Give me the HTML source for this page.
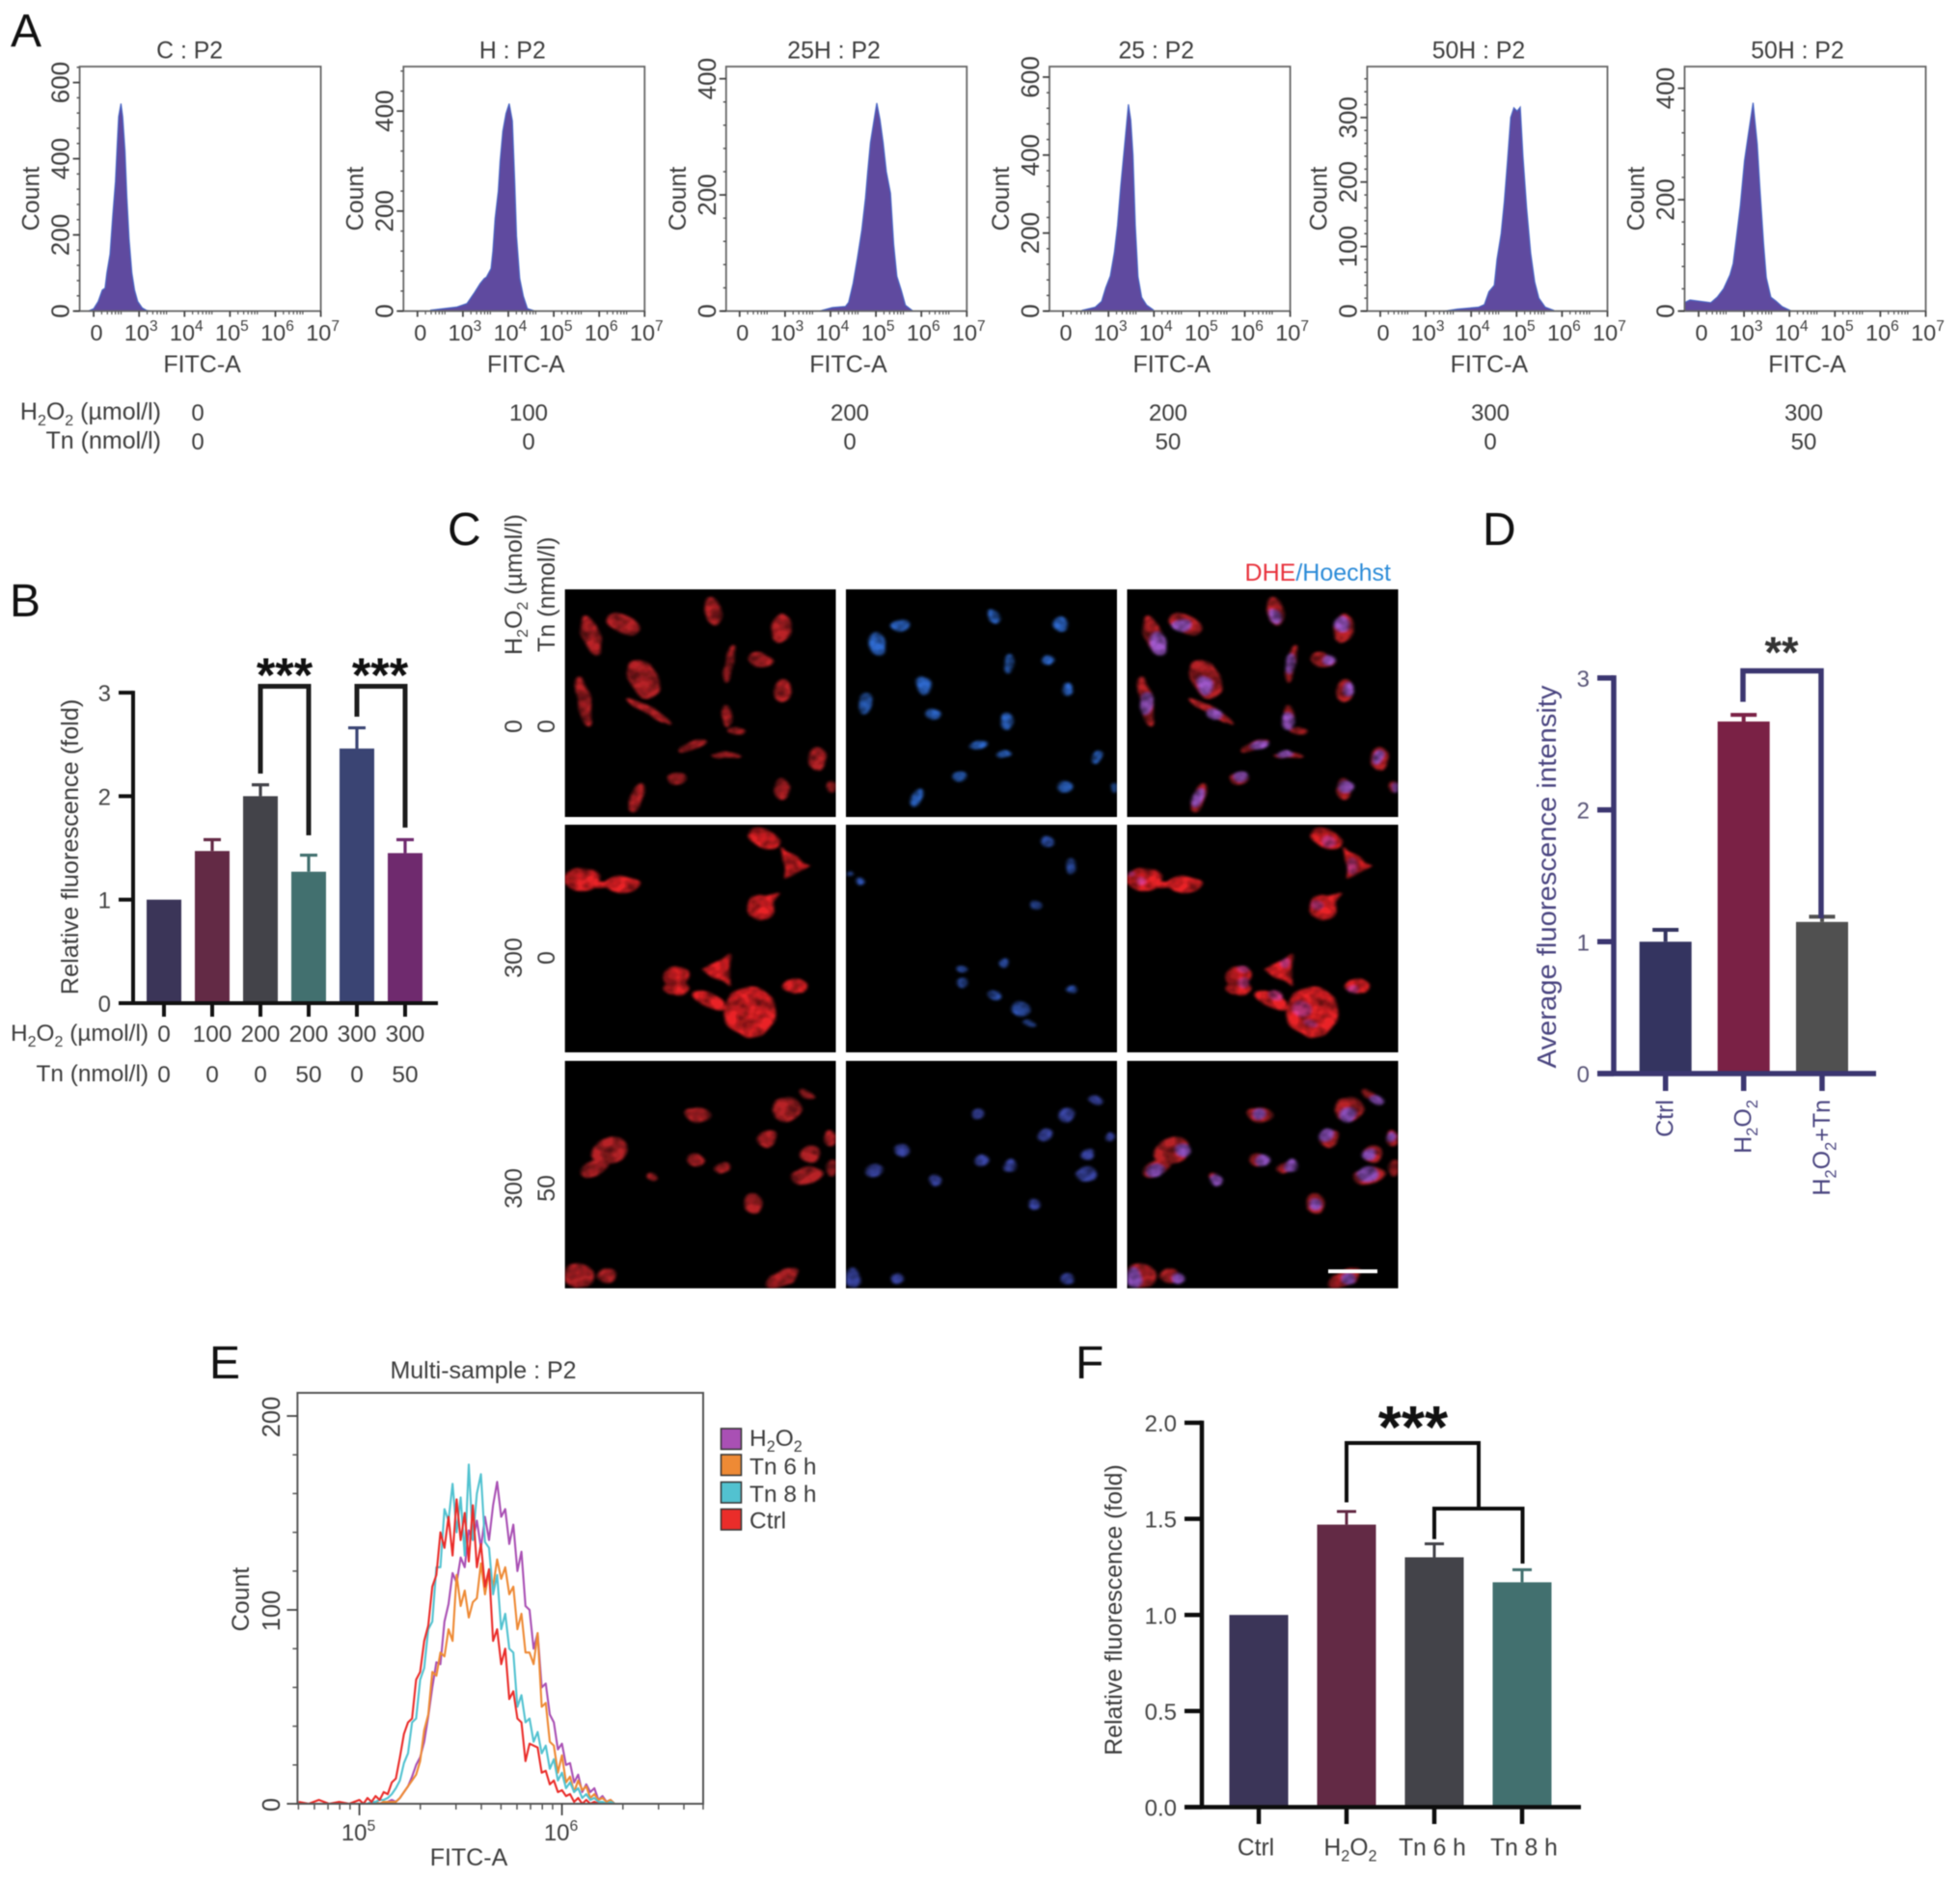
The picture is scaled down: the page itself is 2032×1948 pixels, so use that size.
<!DOCTYPE html>
<html lang="en">
<head>
<meta charset="utf-8">
<title>Flow cytometry and ROS fluorescence figure</title>
<style>
html,body{margin:0;padding:0;background:#fff;}
#figure{display:block;width:2032px;height:1948px;filter:blur(0.6px);font-family:"Liberation Sans",Arial,sans-serif;fill:#3d3d3d;}
.panel-letter{font-size:48px;fill:#111;}
.t24{font-size:25px;}
</style>
</head>
<body>
<svg id="figure" xmlns="http://www.w3.org/2000/svg" width="2032" height="1948" viewBox="0 0 2032 1948">
  <rect width="2032" height="1948" fill="#fff"/>
  <text class="panel-letter" x="11" y="48">A</text>
  <text class="panel-letter" x="10" y="639">B</text>
  <text class="panel-letter" x="464" y="565">C</text>
  <text class="panel-letter" x="1537" y="565">D</text>
  <text class="panel-letter" x="217" y="1429">E</text>
  <text class="panel-letter" x="1115" y="1429">F</text>

  <g id="panel-a">
    <text class="t24" x="167" y="435" text-anchor="end">H<tspan font-size="16" dy="6">2</tspan><tspan dy="-6">O</tspan><tspan font-size="16" dy="6">2</tspan><tspan dy="-6"> (µmol/l)</tspan></text>
    <text class="t24" x="167" y="465" text-anchor="end">Tn (nmol/l)</text>
  </g>
  <g id="panel-b">
    <text font-size="24.4" x="154" y="1079" text-anchor="end">H<tspan font-size="16" dy="6">2</tspan><tspan dy="-6">O</tspan><tspan font-size="16" dy="6">2</tspan><tspan dy="-6"> (µmol/l)</tspan></text>
    <text font-size="24.4" x="154" y="1121" text-anchor="end">Tn (nmol/l)</text>
    <text font-size="25.3" transform="translate(81,878) rotate(-90)" text-anchor="middle">Relative fluorescence (fold)</text>
  </g>
  <g id="panel-c">
    <text font-size="25" x="1442" y="602" text-anchor="end"><tspan fill="#e8323c">DHE</tspan><tspan fill="#2b8bd8">/Hoechst</tspan></text>
    <text class="t24" transform="translate(541,679) rotate(-90)">H<tspan font-size="16" dy="6">2</tspan><tspan dy="-6">O</tspan><tspan font-size="16" dy="6">2</tspan><tspan dy="-6"> (µmol/l)</tspan></text>
    <text class="t24" transform="translate(575,676) rotate(-90)">Tn (nmol/l)</text>
    <text class="t24" transform="translate(541,753) rotate(-90)" text-anchor="middle">0</text>
    <text class="t24" transform="translate(575,753) rotate(-90)" text-anchor="middle">0</text>
    <text class="t24" transform="translate(541,993) rotate(-90)" text-anchor="middle">300</text>
    <text class="t24" transform="translate(575,993) rotate(-90)" text-anchor="middle">0</text>
    <text class="t24" transform="translate(541,1232) rotate(-90)" text-anchor="middle">300</text>
    <text class="t24" transform="translate(575,1232) rotate(-90)" text-anchor="middle">50</text>
  </g>
  <g id="panel-d">
    <text font-size="28" fill="#4a4580" transform="translate(1613,909) rotate(-90)" text-anchor="middle" textLength="397" lengthAdjust="spacingAndGlyphs">Average fluorescence intensity</text>
  </g>
  <g id="panel-e">
    <text font-size="25" x="501" y="1429" text-anchor="middle">Multi-sample : P2</text>
    <text font-size="25" x="486" y="1934" text-anchor="middle">FITC-A</text>
    <text font-size="25" transform="translate(258,1658) rotate(-90)" text-anchor="middle">Count</text>
  </g>
  <g id="panel-f">
    <text font-size="24.9" transform="translate(1163,1669) rotate(-90)" text-anchor="middle">Relative fluorescence (fold)</text>
  </g>
</svg>

<script>
/* ---------- Panel A data: x position on the display axis (2 = "0", 3 = 10^3, ...), y = count ---------- */
const aXTickPositions = [2, 3, 4, 5, 6, 7];
const aXTickLabels = ["0", "10^3", "10^4", "10^5", "10^6", "10^7"];
const aTitles = ["C : P2", "H : P2", "25H : P2", "25 : P2", "50H : P2", "50H : P2"];
const aH2o2Doses = ["0", "100", "200", "200", "300", "300"];
const aTnDoses = ["0", "0", "0", "50", "0", "50"];
const histCPos = [1.88,2.00,2.10,2.19,2.25,2.29,2.36,2.42,2.48,2.52,2.55,2.60,2.64,2.69,2.73,2.78,2.84,2.90,2.97,3.07,3.16,3.26];
const histCCount = [0,6,25,55,60,100,150,250,340,440,510,545,510,420,300,190,100,55,25,8,2,0];
const histHPos = [2.29,2.86,3.09,3.24,3.38,3.47,3.52,3.62,3.66,3.71,3.78,3.82,3.88,3.95,4.02,4.09,4.14,4.18,4.25,4.33,4.42,4.56];
const histHCount = [2,8,15,35,55,65,68,85,120,185,240,300,360,395,415,380,260,150,65,30,5,1];
const hist25hPos = [3.76,4.04,4.33,4.40,4.50,4.59,4.69,4.77,4.82,4.88,4.94,5.02,5.09,5.16,5.23,5.32,5.39,5.46,5.56,5.65,5.80];
const hist25hCount = [0,6,8,15,48,90,140,195,240,290,320,358,330,290,240,203,115,60,35,10,1];
const hist25Pos = [2.42,2.71,2.85,2.94,3.04,3.13,3.20,3.27,3.37,3.44,3.49,3.54,3.59,3.65,3.73,3.84,3.99];
const hist25Count = [2,10,25,60,90,150,220,320,443,530,490,400,220,88,35,15,3];
const hist50hPos = [3.42,3.69,4.16,4.29,4.39,4.51,4.57,4.66,4.73,4.80,4.87,4.94,5.01,5.08,5.14,5.22,5.31,5.40,5.49,5.63,5.82];
const hist50hCount = [0,3,6,10,30,40,80,120,170,233,300,315,310,316,240,160,90,45,20,6,1];
const hist50tPos = [1.69,1.81,2.27,2.41,2.55,2.69,2.76,2.83,2.92,3.01,3.10,3.20,3.29,3.35,3.43,3.49,3.59,3.70,3.84,4.02];
const hist50tCount = [15,20,15,25,40,65,85,130,190,270,320,374,300,220,120,60,25,18,8,1];
const aYTicks1 = [0, 200, 400, 600];
const aYTicks2 = [0, 200, 400];
const aYTicks3 = [0, 200, 400];
const aYTicks4 = [0, 200, 400, 600];
const aYTicks5 = [0, 100, 200, 300];
const aYTicks6 = [0, 200, 400];

/* ---------- Panel B data ---------- */
const bCategories = ["Ctrl", "100", "200", "200+Tn", "300", "300+Tn"];
const bH2o2Labels = ["0", "100", "200", "200", "300", "300"];
const bTnLabels = ["0", "0", "0", "50", "0", "50"];
const bValues = [1.0, 1.47, 2.0, 1.27, 2.46, 1.45];
const bErrorTops = [1.0, 1.58, 2.11, 1.43, 2.66, 1.58];
const bYTicks = [0, 1, 2, 3];

/* ---------- Panel D data ---------- */
const dCategories = ["Ctrl", "H2O2", "H2O2+Tn"];
const dValues = [1.0, 2.67, 1.15];
const dErrorTops = [1.09, 2.72, 1.19];
const dYTicks = [0, 1, 2, 3];

/* ---------- Panel E data ---------- */
const eLogX = [4.70,4.75,4.80,4.85,4.90,4.95,
 5.00,5.02,5.04,5.06,5.08,5.10,5.12,5.14,5.16,5.18,
 5.20,5.22,5.24,5.26,5.28,5.30,5.32,5.34,5.36,5.38,
 5.40,5.42,5.44,5.46,5.48,5.50,5.52,5.54,5.56,5.58,
 5.60,5.62,5.64,5.66,5.68,5.70,5.72,5.74,5.76,5.78,
 5.80,5.82,5.84,5.86,5.88,5.90,5.92,5.94,5.96,5.98,
 6.00,6.02,6.04,6.06,6.08,6.10,6.12,6.14,6.16,6.18,
 6.20,6.22,6.24,6.26,6.28];
const eCtrl = [1,0,2,0,1,0,
 2,0,3,1,4,2,6,5,11,13,
 24,36,42,44,64,68,84,92,112,118,
 140,132,148,128,157,136,150,125,154,122,
 134,112,121,84,90,72,80,54,58,44,
 42,22,31,30,29,16,17,10,12,6,
 7,4,5,1,3,0,2,0,1,0,
 0,0,0,0,0];
const eTn8h = [0,0,0,0,0,0,
 0,0,0,1,1,2,2,3,5,8,
 12,21,26,42,44,64,70,90,94,122,
 122,152,146,165,140,158,128,175,136,160,
 170,135,132,108,118,90,98,80,78,50,
 56,42,44,32,37,26,30,18,23,12,
 16,8,11,6,8,3,5,2,3,1,
 1,0,1,0,0];
const eTn6h = [0,0,0,0,0,0,
 0,0,0,0,1,0,1,1,1,1,
 3,6,9,12,15,22,38,46,68,66,
 78,76,90,84,118,102,110,96,104,106,
 124,108,120,112,126,116,122,108,112,90,
 98,78,78,72,88,50,52,32,30,16,
 25,11,14,6,12,7,9,3,5,2,
 3,1,2,0,0];
const eH2o2 = [0,0,0,0,0,0,
 0,0,0,0,1,0,1,1,2,1,
 3,6,9,14,20,24,32,45,60,73,
 72,94,103,119,114,127,122,141,136,146,
 132,148,136,154,166,148,152,134,144,120,
 130,102,100,80,88,60,62,46,42,28,
 31,20,21,11,15,6,10,6,8,2,
 4,1,2,0,0];
const eLegendLabels = ["H2O2", "Tn 6 h", "Tn 8 h", "Ctrl"];
const eYTicks = [0, 100, 200];
const eYMinorTicks = [20,40,60,80,120,140,160,180];
const eXTicks = [5, 6];
const eXMinorTicks = [4.699,4.778,4.845,4.903,4.954,5.301,5.477,5.602,5.699,5.778,5.845,5.903,5.954,6.301,6.477,6.602,6.697];

/* ---------- Panel F data ---------- */
const fCategories = ["Ctrl", "H2O2", "Tn 6 h", "Tn 8 h"];
const fValues = [1.0, 1.47, 1.30, 1.17];
const fErrorTops = [1.0, 1.538, 1.37, 1.235];
const fYTicks = [0, 0.5, 1.0, 1.5, 2.0];

/* ---------- Panel C cell maps (ellipse centre/radii/rotation, in micrograph units 440x445) ---------- */
const cellsRedRow1 = [[43,90,14,42,-15],[95,68,30,17,30],[241,43,13,28,-10],[351,76,15,30,10],[266,146,7,38,10],[318,138,20,13,20],[128,175,24,40,-20],[31,220,10,50,-10],[136,238,45,8,35],[353,198,13,22,0],[263,248,8,22,0],[278,276,14,6,0],[208,306,26,8,-25],[263,325,26,6,0],[410,331,15,22,0],[181,370,15,11,0],[117,408,10,30,15],[353,390,14,20,0],[433,386,8,12,0]];
const cellsBlueRow1 = [[88,71,15,12,0],[51,108,14,24,-15],[241,53,9,15,-20],[348,68,11,15,15],[264,145,8,20,5],[328,138,9,10,0],[126,188,12,18,-10],[31,223,10,20,0],[359,196,8,12,0],[141,245,13,10,0],[261,258,10,17,0],[216,305,16,8,-20],[256,323,12,7,0],[408,328,8,12,20],[184,366,11,10,0],[116,408,9,18,15],[356,386,14,12,0],[436,388,5,10,0]];
const cellsRedRow2 = [[28,107,30,22,0],[60,118,14,7,0],[93,117,27,16,0],[323,27,28,18,30],[318,162,22,25,0],[181,297,20,20,0],[181,320,20,13,0],[373,315,20,14,0],[300,365,42,48,0],[303,397,25,20,0],[233,342,30,13,30]];
const cellsBlueRow2 = [[326,32,10,10,0],[364,80,8,15,0],[309,157,10,10,0],[188,282,8,7,0],[189,309,9,10,0],[256,270,7,10,0],[366,322,9,7,0],[241,334,12,10,30],[284,360,16,14,30],[298,387,10,6,30],[21,112,7,8,0],[6,97,5,5,0]];
const cellsRedRow3 = [[73,175,30,25,-30],[48,210,25,15,-30],[215,105,20,14,15],[361,95,24,24,0],[328,153,14,18,20],[398,183,15,17,0],[431,150,10,16,0],[393,225,28,17,-15],[433,210,8,16,0],[213,195,13,14,-30],[256,210,12,10,-30],[141,228,8,8,0],[306,278,15,20,0],[23,420,24,24,0],[68,420,15,15,0],[353,425,30,15,-35],[393,65,15,6,35]];
const cellsBlueRow3 = [[214,102,10,10,0],[359,105,13,15,0],[406,77,12,8,30],[324,145,10,14,20],[91,175,13,13,0],[46,215,16,12,-15],[144,235,10,12,15],[221,195,10,13,20],[266,205,10,12,20],[393,183,10,12,20],[391,222,18,15,-15],[429,148,7,10,20],[306,280,10,10,0],[11,425,12,18,0],[83,427,10,10,0],[359,425,10,12,0]];

/* ---------- Helpers ---------- */
const NS = "http://www.w3.org/2000/svg";
function mk(parent, tag, name, attrs) {
  const el = document.createElementNS(NS, tag);
  
  
  for (const k in attrs) el.setAttribute(k, attrs[k]);
  parent.appendChild(el);
  return el;
}
function line(p, name, x1, y1, x2, y2, stroke, w) {
  return mk(p, "line", name, {x1: x1, y1: y1, x2: x2, y2: y2, stroke: stroke, "stroke-width": w});
}
function label(p, name, str, x, y, size, anchor, fill, rotate) {
  const attrs = {"font-size": size, "text-anchor": anchor || "middle"};
  if (fill) attrs.fill = fill;
  if (rotate) attrs.transform = "translate(" + x + "," + y + ") rotate(" + rotate + ")";
  else { attrs.x = x; attrs.y = y; }
  const t = mk(p, "text", name, attrs);
  fillRich(t, str, size);
  return t;
}
/* writes text with H2O2 subscripts and 10^n superscripts */
function fillRich(t, str, size) {
  const small = size * 0.66;
  const sup = str.match(/^(.*)\^(.*)$/);
  if (sup) {
    t.appendChild(document.createTextNode(sup[1]));
    const s = document.createElementNS(NS, "tspan");
    s.setAttribute("font-size", small);
    s.setAttribute("dy", -size * 0.42);
    s.textContent = sup[2];
    t.appendChild(s);
    return;
  }
  const parts = str.split(/(H2O2)/);
  parts.forEach(function (part) {
    if (part === "H2O2") {
      [["H",0],["2",1],["O",-1],["2",1]].forEach(function (c) {
        const s = document.createElementNS(NS, "tspan");
        if (c[1] === 1) { s.setAttribute("font-size", small); s.setAttribute("dy", size * 0.25); }
        if (c[1] === -1) { s.setAttribute("dy", -size * 0.25); }
        s.textContent = c[0];
        t.appendChild(s);
      });
      if (parts.length > 1) {
        const back = document.createElementNS(NS, "tspan");
        back.setAttribute("dy", -size * 0.25);
        back.textContent = "\u200b";
        t.appendChild(back);
      }
    } else if (part) {
      t.appendChild(document.createTextNode(part));
    }
  });
}

/* ---------- Panel A ---------- */
const panelA = document.getElementById("panel-a");
const aPlots = [
  {id: "c",    left: 82.6,   right: 332.6,  yTop: 642, ticks: aYTicks1, pos: histCPos,   count: histCCount,   minor: 40, titleShift: -11, doseX: 205},
  {id: "h",    left: 418.3,  right: 668.3,  yTop: 489, ticks: aYTicks2, pos: histHPos,   count: histHCount,   minor: 40, titleShift: -12, doseX: 548},
  {id: "25h",  left: 752.8,  right: 1002.3, yTop: 421, ticks: aYTicks3, pos: hist25hPos, count: hist25hCount, minor: 40, titleShift: -13, doseX: 881},
  {id: "25",   left: 1088,   right: 1337.6, yTop: 627, ticks: aYTicks4, pos: hist25Pos,  count: hist25Count,  minor: 40, titleShift: -14, doseX: 1211},
  {id: "50h",  left: 1417.4, right: 1666.5, yTop: 379, ticks: aYTicks5, pos: hist50hPos, count: hist50hCount, minor: 20, titleShift: -9,  doseX: 1545},
  {id: "50ht", left: 1746.5, right: 1996.5, yTop: 439, ticks: aYTicks6, pos: hist50tPos, count: hist50tCount, minor: 40, titleShift: -8,  doseX: 1870}
];
const aTop = 69, aBottom = 322.5, aDecade = 47.1;
aPlots.forEach(function (pl, i) {
  const g = mk(panelA, "g", "histogram-" + pl.id, {});
  const xs = function (u) { return pl.right - (7 - u) * aDecade; };
  const ys = function (c) { return aBottom - c / pl.yTop * (aBottom - aTop); };
  /* filled histogram */
  let d = "M" + xs(pl.pos[0]) + " " + aBottom;
  pl.pos.forEach(function (u, k) { d += "L" + xs(u).toFixed(1) + " " + ys(pl.count[k]).toFixed(1); });
  d += "L" + xs(pl.pos[pl.pos.length - 1]) + " " + aBottom + "Z";
  mk(g, "path", "histogram-fill-" + pl.id, {d: d, fill: "#5f4a9f", stroke: "#4a66c4", "stroke-width": 1.2});
  /* frame */
  mk(g, "rect", "plot-frame-" + pl.id, {x: pl.left, y: aTop, width: pl.right - pl.left, height: aBottom - aTop, fill: "none", stroke: "#666", "stroke-width": 1.8});
  /* y ticks */
  const step = pl.minor;
  for (let c = 0; ys(c) >= aTop; c += step) {
    line(g, "y-minor-tick", pl.left - 3, ys(c), pl.left, ys(c), "#555", 1.5);
  }
  pl.ticks.forEach(function (c) {
    line(g, "y-major-tick", pl.left - 7, ys(c), pl.left, ys(c), "#444", 1.8);
    label(g, "y-tick-label", String(c), pl.left - 11, ys(c), 26, "middle", null, -90);
  });
  /* x ticks */
  aXTickPositions.forEach(function (u, k) {
    line(g, "x-major-tick", xs(u), aBottom, xs(u), aBottom + 6, "#444", 1.8);
    for (let m = 1; m < 7; m++) {
      const mu = u + Math.log10(m + 2) - 0.3;
      if (u < 7 && xs(mu) < pl.right) line(g, "x-minor-tick", xs(mu), aBottom, xs(mu), aBottom + 3.5, "#555", 1.2);
    }
    label(g, "x-tick-label", aXTickLabels[k], xs(u) + (k === 0 ? 3 : 2), 353, 23.5, "middle");
  });
  line(g, "x-axis-left-stub", pl.left - 5, aBottom, pl.left, aBottom, "#444", 1.8);
  label(g, "histogram-title", aTitles[i], (pl.left + pl.right) / 2 + pl.titleShift, 60.5, 24.8, "middle");
  label(g, "x-axis-title", "FITC-A", (pl.left + pl.right) / 2 + 2, 386, 25, "middle");
  label(g, "y-axis-title", "Count", pl.left - 42, 206, 25, "middle", null, -90);
  label(g, "h2o2-dose", aH2o2Doses[i], pl.doseX, 436, 24, "middle");
  label(g, "tn-dose", aTnDoses[i], pl.doseX, 466, 24, "middle");
});

/* ---------- Bar chart drawer ---------- */
function barChart(p, o) {
  const ys = function (v) { return o.y0 - v * o.pxPerUnit; };
  o.values.forEach(function (v, i) {
    const cx = o.centers[i];
    const errTop = o.errTops[i];
    if (errTop > v) {
      line(p, "error-bar-stem", cx, ys(v), cx, ys(errTop), o.colors[i], o.errW);
      line(p, "error-bar-cap", cx - o.capW / 2, ys(errTop), cx + o.capW / 2, ys(errTop), o.colors[i], o.errW);
    }
    mk(p, "rect", "bar-" + o.names[i].toLowerCase().replace(/[^a-z0-9]+/g, "-"), {
      x: cx - o.barW / 2, y: ys(v), width: o.barW, height: o.y0 - ys(v), fill: o.colors[i]
    });
    line(p, "x-tick", cx, o.y0, cx, o.tickBottom, o.axisColor, o.axisW);
  });
  line(p, "y-axis", o.axisX, ys(o.yMax) - o.axisW / 2, o.axisX, o.y0, o.axisColor, o.axisW);
  line(p, "x-axis", o.tickLeft, o.y0, o.axisRight, o.y0, o.axisColor, o.axisW);
  o.ticks.forEach(function (t) {
    line(p, "y-tick", o.tickLeft, ys(t), o.axisX, ys(t), o.axisColor, o.axisW);
    label(p, "y-tick-label", o.tickFormat(t), o.tickLeft - 8, ys(t) + 9, o.fontSize, "end", o.labelColor);
  });
  return ys;
}
function bracket(p, name, pts, color, w) {
  mk(p, "path", name, {d: "M" + pts.map(function (q) { return q[0] + " " + q[1]; }).join("L"), fill: "none", stroke: color, "stroke-width": w});
}
function stars(p, name, str, cx, baseline, size, fill) {
  const t = mk(p, "text", name, {x: cx, y: baseline, "font-size": size, "font-weight": "bold", "text-anchor": "middle", fill: fill});
  t.textContent = str;
}

/* ---------- Panel B ---------- */
const panelB = document.getElementById("panel-b");
const bCenters = [170, 220, 270, 320, 370, 420];
const bY = barChart(panelB, {
  values: bValues, errTops: bErrorTops, names: bCategories, centers: bCenters,
  colors: ["#3b3558", "#632a45", "#434349", "#42706f", "#3a4473", "#6f2a6e"],
  y0: 1040, pxPerUnit: 107.3, yMax: 3, barW: 36, capW: 18, errW: 3.2,
  axisX: 138, axisRight: 454, tickLeft: 123, tickBottom: 1054, axisW: 4, axisColor: "#111",
  ticks: bYTicks, tickFormat: function (t) { return String(t); }, fontSize: 24, labelColor: "#444"
});
bH2o2Labels.forEach(function (s, i) { label(panelB, "b-h2o2-dose", s, bCenters[i], 1080, 24.4, "middle"); });
bTnLabels.forEach(function (s, i) { label(panelB, "b-tn-dose", s, bCenters[i], 1122, 24.4, "middle"); });
bracket(panelB, "b-significance-bracket-200", [[270, 802], [270, 711.5], [320, 711.5], [320, 866]], "#1c1c1c", 5);
bracket(panelB, "b-significance-bracket-300", [[370, 743], [370, 711.5], [420, 711.5], [420, 858]], "#1c1c1c", 5);
stars(panelB, "b-significance-stars-200", "***", 295, 717, 50, "#111");
stars(panelB, "b-significance-stars-300", "***", 394, 717, 50, "#111");

/* ---------- Panel D ---------- */
const panelD = document.getElementById("panel-d");
const dCenters = [1726.7, 1807.7, 1889];
barChart(panelD, {
  values: dValues, errTops: dErrorTops, names: dCategories, centers: dCenters,
  colors: ["#343460", "#7a2145", "#505050"],
  y0: 1113, pxPerUnit: 136.7, yMax: 3, barW: 54, capW: 27, errW: 4,
  axisX: 1673, axisRight: 1945, tickLeft: 1656, tickBottom: 1131, axisW: 5.5, axisColor: "#3b3670",
  ticks: dYTicks, tickFormat: function (t) { return String(t); }, fontSize: 24, labelColor: "#5a5678"
});
dCategories.forEach(function (s, i) {
  label(panelD, "d-category-label", s, dCenters[i] + 8, 1140, 25, "end", "#4a4580", -90);
});
bracket(panelD, "d-significance-bracket", [[1807, 727.6], [1807, 695.5], [1888, 695.5], [1888, 952]], "#3b3670", 5.5);
stars(panelD, "d-significance-stars", "**", 1847, 692, 45, "#333");

/* ---------- Panel E ---------- */
const panelE = document.getElementById("panel-e");
const eLeft = 308.4, eRight = 729, eTop = 1444, eBottom = 1870;
const ex = function (lg) { return 372.6 + (lg - 5) * 210; };
const ey = function (c) { return eBottom - c * 2.01; };
const eSeries = [
  {name: "h2o2", values: eH2o2, color: "#a950b4"},
  {name: "tn-6h", values: eTn6h, color: "#ee8a35"},
  {name: "tn-8h", values: eTn8h, color: "#52c2d0"},
  {name: "ctrl", values: eCtrl, color: "#ea2d2a"}
];
eSeries.forEach(function (s) {
  let d = "";
  eLogX.forEach(function (lg, i) {
    d += (i ? "L" : "M") + ex(lg).toFixed(1) + " " + ey(s.values[i]).toFixed(1);
  });
  mk(panelE, "path", "overlay-line-" + s.name, {d: d, fill: "none", stroke: s.color, "stroke-width": 2.1, "stroke-linejoin": "round"});
});
mk(panelE, "rect", "e-plot-frame", {x: eLeft, y: eTop, width: eRight - eLeft, height: eBottom - eTop, fill: "none", stroke: "#555", "stroke-width": 2});
eYTicks.forEach(function (c) {
  line(panelE, "e-y-major-tick", eLeft - 11, ey(c), eLeft, ey(c), "#444", 1.8);
  label(panelE, "e-y-tick-label", String(c), 290, ey(c) + 1, 25.5, "middle", null, -90);
});
eYMinorTicks.forEach(function (c) {
  line(panelE, "e-y-minor-tick", eLeft - 5, ey(c), eLeft, ey(c), "#555", 1.5);
});
eXTicks.forEach(function (lg) {
  line(panelE, "e-x-major-tick", ex(lg), eBottom, ex(lg), eBottom + 12, "#444", 1.8);
  label(panelE, "e-x-tick-label", "10^" + lg, ex(lg) - 1, 1908, 24, "middle");
});
eXMinorTicks.forEach(function (lg) {
  line(panelE, "e-x-minor-tick", ex(lg), eBottom, ex(lg), eBottom + 6, "#555", 1.5);
});
const eSwatchTops = [1481, 1508, 1536.5, 1564.5];
const eTextBaselines = [1499, 1528.5, 1556.8, 1584.7];
eLegendLabels.forEach(function (s, i) {
  mk(panelE, "rect", "e-legend-swatch", {x: 747.5, y: eSwatchTops[i], width: 21, height: 21.5, fill: eSeries[i].color, stroke: "#333", "stroke-width": 1.5});
  label(panelE, "e-legend-label", s, 777, eTextBaselines[i], 24.5, "start");
});

/* ---------- Panel F ---------- */
const panelF = document.getElementById("panel-f");
const fCenters = [1305, 1396, 1487, 1578];
barChart(panelF, {
  values: fValues, errTops: fErrorTops, names: fCategories, centers: fCenters,
  colors: ["#3b3558", "#632a45", "#434349", "#42706f"],
  y0: 1873.5, pxPerUnit: 199.25, yMax: 2, barW: 61, capW: 20, errW: 3,
  axisX: 1246, axisRight: 1639, tickLeft: 1228, tickBottom: 1891, axisW: 4.5, axisColor: "#0d0d0d",
  ticks: fYTicks, tickFormat: function (t) { return t.toFixed(1); }, fontSize: 24, labelColor: "#444"
});
const fLabelX = [1302, 1400, 1485, 1580];
fCategories.forEach(function (s, i) {
  label(panelF, "f-category-label", s, fLabelX[i], 1923.5, 24.6, "middle");
});
bracket(panelF, "f-significance-bracket-outer", [[1396, 1557.5], [1396, 1496], [1533, 1496], [1533, 1564]], "#0d0d0d", 4);
bracket(panelF, "f-significance-bracket-inner", [[1487, 1595.6], [1487, 1564], [1578.5, 1564], [1578.5, 1621]], "#0d0d0d", 4);
stars(panelF, "f-significance-stars", "***", 1465, 1501, 62, "#111");

/* ---------- Panel C micrographs ---------- */
const panelC = document.getElementById("panel-c");
const defs = mk(document.getElementById("figure"), "defs", "filter-definitions", {});
const blurF = mk(defs, "filter", "cell-texture-filter", {id: "cellBlur", filterUnits: "userSpaceOnUse", x: 0, y: 0, width: 440, height: 445});
mk(blurF, "feTurbulence", "cell-edge-noise", {type: "fractalNoise", baseFrequency: 0.04, numOctaves: 1, seed: 4, result: "edge"});
mk(blurF, "feDisplacementMap", "cell-edge-displacement", {in: "SourceGraphic", in2: "edge", scale: 10, xChannelSelector: "R", yChannelSelector: "G", result: "shaped"});
mk(blurF, "feGaussianBlur", "cell-blur", {in: "shaped", stdDeviation: 2.4, result: "soft"});
mk(blurF, "feTurbulence", "cell-grain-noise", {type: "fractalNoise", baseFrequency: 0.05, numOctaves: 2, seed: 9, result: "grain"});
mk(blurF, "feColorMatrix", "cell-grain-alpha", {in: "grain", type: "matrix", values: "0 0 0 0 0  0 0 0 0 0  0 0 0 0 0  1.0 0 0 0 0.3", result: "grainAlpha"});
mk(blurF, "feComposite", "cell-grain-composite", {in: "soft", in2: "grainAlpha", operator: "in"});
const colX = [585.6, 877, 1168.5];
const rowY = [611, 855, 1099.7];
const colW = 281, rowH = 236;
const rowsRed = [cellsRedRow1, cellsRedRow2, cellsRedRow3];
const rowsBlue = [cellsBlueRow1, cellsBlueRow2, cellsBlueRow3];
const redColors = ["#bb2428", "#ea2226", "#b82226"];
const blueColors = ["#2f6ad0", "#3058bc", "#3a46a8"];
const mergeColors = ["#a058cc", "#dc3c8c", "#8c50bc"];
function drawCells(g, cells, name, fill) {
  cells.forEach(function (c) {
    mk(g, "ellipse", name, {cx: c[0], cy: c[1], rx: c[2], ry: c[3], fill: fill, transform: "rotate(" + c[4] + " " + c[0] + " " + c[1] + ")"});
  });
}
function drawRow2Shapes(g) {
  mk(g, "polygon", "red-triangular-cell", {points: "351,42 398,79 358,105", fill: redColors[1]});
  mk(g, "polygon", "red-triangular-cell", {points: "223,282 268,252 268,317", fill: redColors[1]});
  mk(g, "polygon", "red-cell-process", {points: "305,140 347,135 325,175", fill: redColors[1]});
}
for (let r = 0; r < 3; r++) {
  for (let c = 0; c < 3; c++) {
    const sv = mk(panelC, "svg", "micrograph-row" + (r + 1) + "-col" + (c + 1), {
      x: colX[c], y: rowY[r], width: colW, height: rowH, viewBox: "0 0 440 445", preserveAspectRatio: "none"
    });
    mk(sv, "rect", "micrograph-background", {width: 440, height: 445, fill: "#000"});
    const g = mk(sv, "g", "micrograph-cells", {filter: "url(#cellBlur)"});
    if (c !== 1) {
      if (r === 1) drawRow2Shapes(g);
      drawCells(g, rowsRed[r], "red-cell", redColors[r]);
    }
    if (c === 1) drawCells(g, rowsBlue[r], "blue-nucleus", blueColors[r]);
    if (c === 2) drawCells(g, rowsBlue[r], "merged-nucleus", mergeColors[r]);
  }
}
mk(panelC, "rect", "scale-bar", {x: 1377, y: 1316, width: 51, height: 4, fill: "#fff"});
</script>
</body>
</html>
